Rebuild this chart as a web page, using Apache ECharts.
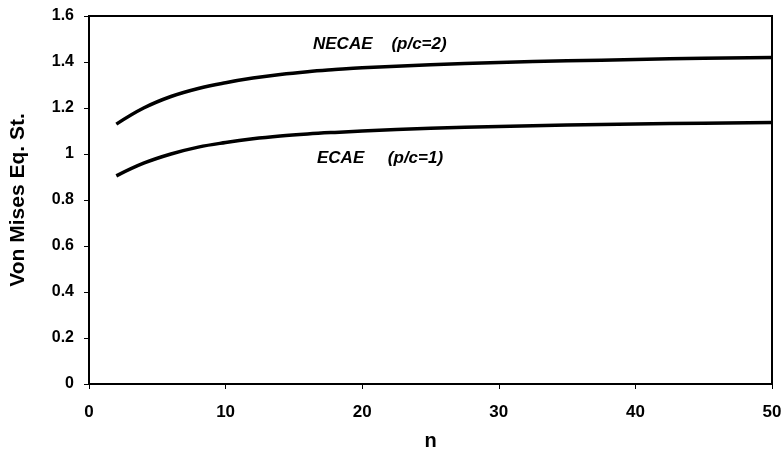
<!DOCTYPE html>
<html><head><meta charset="utf-8">
<script src="https://cdn.jsdelivr.net/npm/echarts@6/dist/echarts.min.js"></script>
<style>html,body{margin:0;padding:0;background:#fff}#c{width:782px;height:457px}</style>
</head><body><div id="c"></div>
<script>
const nValues = [2,4,6,8,10,12,14,16,18,20,25,30,35,40,45,50];
const necae = [1.13,1.20,1.25,1.285,1.31,1.33,1.346,1.358,1.367,1.375,1.388,1.398,1.405,1.411,1.416,1.42];
const ecae  = [0.905,0.96,1.0,1.03,1.05,1.066,1.078,1.087,1.094,1.10,1.112,1.12,1.126,1.13,1.134,1.137];
const xTicks = [0,10,20,30,40,50];
const yTicks = [0,0.2,0.4,0.6,0.8,1,1.2,1.4,1.6];
const labels = ['NECAE    (p/c=2)', 'ECAE     (p/c=1)'];

const chart = echarts.init(document.getElementById('c'));
const font = 'Liberation Sans, Arial, sans-serif';
const pairs = a => nValues.map((n,i)=>[n,a[i]]);
chart.setOption({
  animation:false,
  grid:{left:89,right:10,top:16,bottom:73,show:true,borderColor:'#000',borderWidth:2,
    containLabel:false,outerBoundsMode:'none'},
  xAxis:{type:'value',min:xTicks[0],max:xTicks[xTicks.length-1],interval:10,
    name:'n',nameLocation:'middle',nameGap:47,
    nameTextStyle:{fontFamily:font,fontWeight:'bold',fontSize:20,color:'#000'},
    axisLine:{lineStyle:{color:'#000',width:2}},
    axisTick:{show:true,length:5,lineStyle:{color:'#000'}},
    axisLabel:{fontFamily:font,fontWeight:'bold',fontSize:17,color:'#000',margin:20},
    splitLine:{show:false}},
  yAxis:{type:'value',min:yTicks[0],max:yTicks[yTicks.length-1],interval:0.2,
    name:'Von Mises Eq. St.',nameLocation:'middle',nameGap:60,
    nameTextStyle:{fontFamily:font,fontWeight:'bold',fontSize:21,color:'#000'},
    axisLine:{lineStyle:{color:'#000',width:2}},
    axisTick:{show:true,length:5,lineStyle:{color:'#000'}},
    axisLabel:{fontFamily:font,fontWeight:'bold',fontSize:16,color:'#000',margin:15,
      formatter:v=>String(+v.toFixed(1))},
    splitLine:{show:false}},
  series:[
    {type:'line',name:'NECAE',data:pairs(necae),smooth:0.4,showSymbol:false,
     lineStyle:{color:'#000',width:3.5}},
    {type:'line',name:'ECAE',data:pairs(ecae),smooth:0.4,showSymbol:false,
     lineStyle:{color:'#000',width:3.5}}
  ],
  graphic:[
    {type:'text',x:313,y:44,style:{text:labels[0],font:'italic bold 17px '+font,fill:'#000',textVerticalAlign:'middle'}},
    {type:'text',x:317,y:158,style:{text:labels[1],font:'italic bold 17px '+font,fill:'#000',textVerticalAlign:'middle'}}
  ]
});
</script></body></html>
